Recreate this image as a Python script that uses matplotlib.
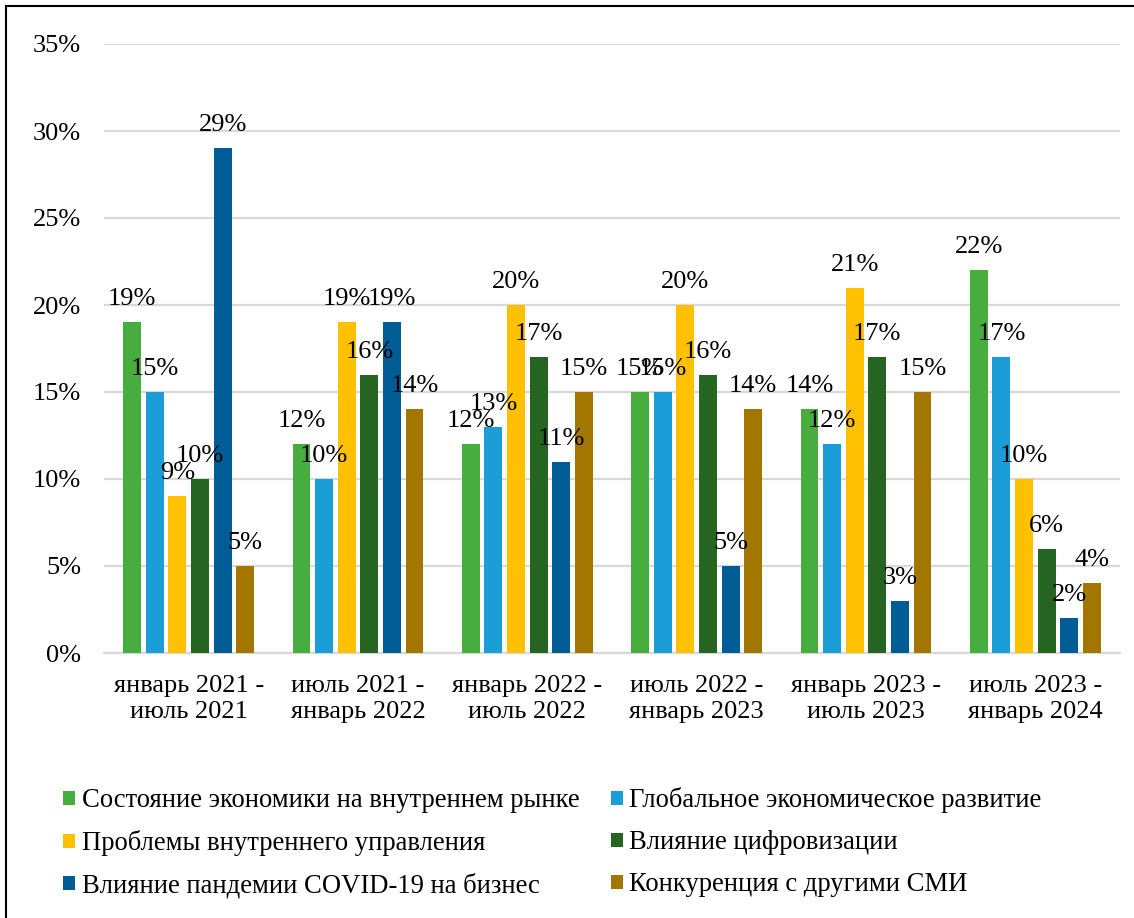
import numpy as np
import matplotlib
matplotlib.use("Agg")
import matplotlib.pyplot as plt
from matplotlib.patches import Patch
from matplotlib.lines import Line2D

# --- DADOS ---
periodos = [
    "январь 2021 -\nиюль 2021",
    "июль 2021 -\nянварь 2022",
    "январь 2022 -\nиюль 2022",
    "июль 2022 -\nянварь 2023",
    "январь 2023 -\nиюль 2023",
    "июль 2023 -\nянварь 2024",
]
series_nomes = [
    "Состояние экономики на внутреннем рынке",
    "Глобальное экономическое развитие",
    "Проблемы внутреннего управления",
    "Влияние цифровизации",
    "Влияние пандемии COVID-19 на бизнес",
    "Конкуренция с другими СМИ",
]
economia = [19, 12, 12, 15, 14, 22]
global_dev = [15, 10, 13, 15, 12, 17]
gestao = [9, 19, 20, 20, 21, 10]
digital = [10, 16, 17, 16, 17, 6]
covid = [29, 19, 11, 5, 3, 2]
concorrencia = [5, 14, 15, 14, 15, 4]
y_ticks = [0, 5, 10, 15, 20, 25, 30, 35]

cores = ["#46AD3E", "#1B9DD7", "#FFC000", "#266421", "#005C94", "#A37600"]

plt.rcParams["font.family"] = ["Liberation Serif", "DejaVu Serif"]
FS = 19
FS_LEG = 19.2

fig = plt.figure(figsize=(11.34, 9.18), dpi=100)
ax = fig.add_axes([104 / 1134, 1 - 653 / 918, 1016 / 1134, 609 / 918])

dados = [economia, global_dev, gestao, digital, covid, concorrencia]
x = np.arange(len(periodos))
passo = 0.1335
largura = 0.106

for j, (vals, cor) in enumerate(zip(dados, cores)):
    pos = x + (j - 2.5) * passo
    ax.bar(pos, vals, width=largura, color=cor, zorder=3)
    for px, v in zip(pos, vals):
        ax.annotate(f"{v}%", (px, v), xytext=(0, 12.2), textcoords="offset points",
                    ha="center", va="baseline", fontsize=FS, color="black", zorder=4)

ax.set_xlim(-0.5, len(periodos) - 0.5)
ax.set_ylim(0, 35)
ax.set_yticks(y_ticks)
ax.set_yticklabels([f"{t}%" for t in y_ticks])
ax.set_xticks(x)
ax.set_xticklabels(periodos)
ax.tick_params(axis="both", length=0, labelsize=FS)
ax.tick_params(axis="y", pad=16.5)
ax.tick_params(axis="x", pad=16)
ax.grid(axis="y", color="#D9D9D9", linewidth=1.6, zorder=0)
for s in ["top", "right", "left"]:
    ax.spines[s].set_visible(False)
ax.spines["bottom"].set_color("#D9D9D9")
ax.spines["bottom"].set_linewidth(1.6)

# legenda em 2 colunas, preenchida por linhas
ordem = [0, 2, 4, 1, 3, 5]
handles = [Patch(facecolor=cores[i], edgecolor="none") for i in ordem]
labels = [series_nomes[i] for i in ordem]
fig.legend(handles, labels, loc="center", bbox_to_anchor=(0.4872, 0.0817), ncol=2,
           frameon=False, fontsize=FS_LEG, handlelength=0.45, handleheight=0.45,
           handletextpad=0.23, columnspacing=1.2, labelspacing=0.64, borderpad=0)

# moldura (só topo e esquerda visíveis)
fig.add_artist(Line2D([6 / 1134, 1], [1 - 6 / 918, 1 - 6 / 918], color="black", linewidth=1.5,
                      transform=fig.transFigure))
fig.add_artist(Line2D([6 / 1134, 6 / 1134], [0, 1 - 6 / 918], color="black", linewidth=1.5,
                      transform=fig.transFigure))

fig.savefig("out.png", dpi=100)
